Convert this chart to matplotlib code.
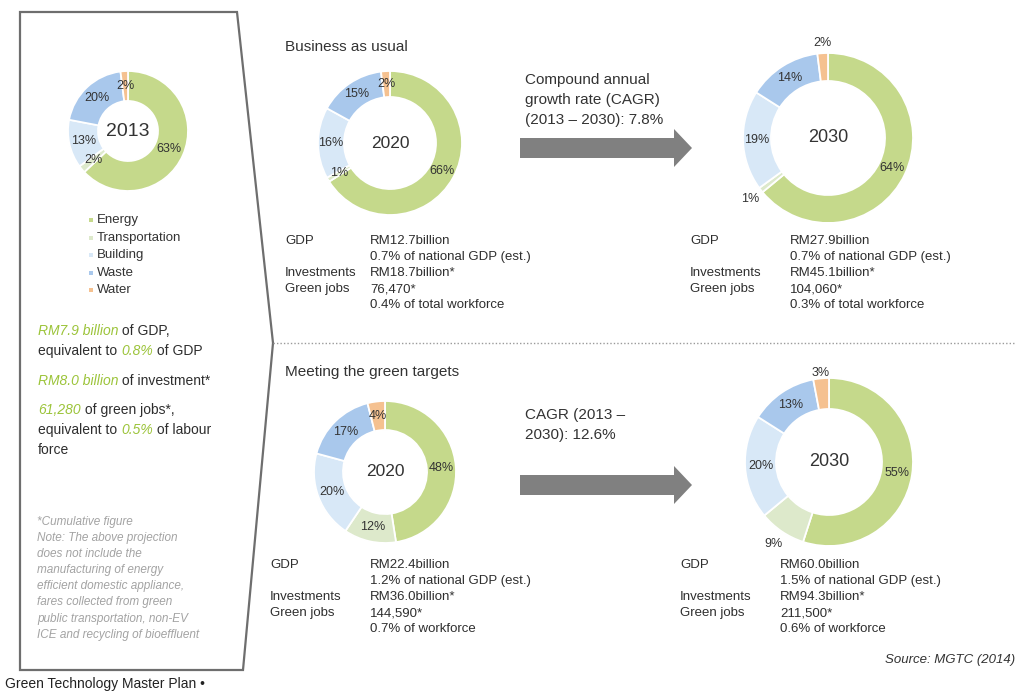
import matplotlib
matplotlib.use("Agg")
import matplotlib.pyplot as plt
from matplotlib.patches import Polygon
import numpy as np

W, H = 1023, 692
plt.rcParams["font.family"] = ["Liberation Sans", "DejaVu Sans"]

# ---------------------------------------------------------------- data
sectors = ["Energy", "Transportation", "Building", "Waste", "Water"]
sector_colors = ["#c5d98b", "#dde9cb", "#d8e8f7", "#a9c8ec", "#f5c190"]

share_2013 = [63, 2, 13, 20, 2]
share_bau_2020 = [66, 1, 16, 15, 2]
share_bau_2030 = [64, 1, 19, 14, 2]
share_green_2020 = [48, 12, 20, 17, 4]
share_green_2030 = [55, 9, 20, 13, 3]

stat_labels = ["GDP", "", "Investments", "Green jobs", ""]
bau_2020_stats = ["RM12.7billion", "0.7% of national GDP (est.)",
                  "RM18.7billion*", "76,470*", "0.4% of total workforce"]
bau_2030_stats = ["RM27.9billion", "0.7% of national GDP (est.)",
                  "RM45.1billion*", "104,060*", "0.3% of total workforce"]
green_2020_stats = ["RM22.4billion", "1.2% of national GDP (est.)",
                    "RM36.0billion*", "144,590*", "0.7% of workforce"]
green_2030_stats = ["RM60.0billion", "1.5% of national GDP (est.)",
                    "RM94.3billion*", "211,500*", "0.6% of workforce"]

cagr_bau = ["Compound annual", "growth rate (CAGR)", "(2013 \u2013 2030): 7.8%"]
cagr_green = ["CAGR (2013 \u2013", "2030): 12.6%"]

summary_2013 = [
    [("RM7.9 billion", "hi"), (" of GDP,", "n")],
    [("equivalent to ", "n"), ("0.8%", "hi"), (" of GDP", "n")],
    [("RM8.0 billion", "hi"), (" of investment*", "n")],
    [("61,280", "hi"), (" of green jobs*,", "n")],
    [("equivalent to ", "n"), ("0.5%", "hi"), (" of labour", "n")],
    [("force", "n")],
]
note_lines = ["*Cumulative figure", "Note: The above projection",
              "does not include the", "manufacturing of energy",
              "efficient domestic appliance,", "fares collected from green",
              "public transportation, non-EV", "ICE and recycling of bioeffluent"]

# ---------------------------------------------------------------- figure
TXT = "#2e2e2e"
GREEN_TXT = "#9cc43a"
fig = plt.figure(figsize=(W / 100, H / 100), dpi=100)
ax = fig.add_axes([0, 0, 1, 1])
ax.set_axis_off()


def Y(y):
    return H - y


def put(x, y, s, size=9.5, color=TXT, **kw):
    return ax.text(x, Y(y), s, fontsize=size, color=color, va="center", **kw)


def donut(values, cx, cy, r_out, r_in, year, year_size, outside=None):
    outside = outside or {}
    wedges, _ = ax.pie(values, colors=sector_colors, startangle=90,
                       counterclock=False, center=(cx, Y(cy)), radius=r_out,
                       frame=True,
                       wedgeprops=dict(width=r_out - r_in, edgecolor="white",
                                       linewidth=1.3))
    r_mid = (r_out + r_in) / 2
    for i, (w, v) in enumerate(zip(wedges, values)):
        ang = np.deg2rad((w.theta1 + w.theta2) / 2)
        r = r_out + outside[i] if i in outside else r_mid
        ax.text(cx + r * np.cos(ang), Y(cy) + r * np.sin(ang), f"{v}%",
                ha="center", va="center", fontsize=9, color="#333333")
    ax.text(cx, Y(cy), year, ha="center", va="center", fontsize=year_size,
            color="#333333")


def stats_block(x_lab, x_val, y0, values, step=16):
    for i, (lab, val) in enumerate(zip(stat_labels, values)):
        y = y0 + i * step
        if lab:
            put(x_lab, y, lab)
        put(x_val, y, val)


def arrow(x0, x1, yc):
    ax.arrow(x0, Y(yc), x1 - x0, 0, width=20, head_width=38,
             head_length=18, length_includes_head=True,
             color="#808080", linewidth=0)


# left panel outline
panel = Polygon([(20, Y(12)), (237, Y(12)), (273, Y(343)), (243, Y(670)),
                 (20, Y(670))], closed=True, fill=False,
                edgecolor="#6e6e6e", linewidth=1.6)
ax.add_patch(panel)

# 2013 donut and legend
donut(share_2013, 128, 131, 60, 30, "2013", 14)
for i, (name, col) in enumerate(zip(sectors, sector_colors)):
    yy = 220 + i * 17.6
    ax.plot([91], [Y(yy)], marker="s", markersize=2.5, color=col,
            markeredgewidth=0)
    put(97, yy, name, size=9.5, color="#333333")

# highlighted summary lines
fig.canvas.draw()
renderer = fig.canvas.get_renderer()
summary_y = [331, 351, 381, 410, 430, 450]
for line, yy in zip(summary_2013, summary_y):
    x = 38
    for s, kind in line:
        if kind == "hi":
            t = put(x, yy, s, size=10, color=GREEN_TXT, style="italic")
        else:
            t = put(x, yy, s, size=10, color=TXT)
        bb = t.get_window_extent(renderer)
        x += bb.width

for i, s in enumerate(note_lines):
    put(37, 522 + i * 16.1, s, size=8.5, color="#a3a3a3", style="italic")

put(5, 684, "Green Technology Master Plan \u2022", size=10, color="#222222")

# business as usual
put(285, 47, "Business as usual", size=11, color="#333333")
donut(share_bau_2020, 390, 143, 72, 46, "2020", 12.5)
for i, s in enumerate(cagr_bau):
    put(525, 80 + i * 20, s, size=11, color="#333333")
arrow(520, 692, 148)
donut(share_bau_2030, 828, 138, 85, 57, "2030", 13,
      outside={1: 14, 4: 10})
stats_block(285, 370, 241, bau_2020_stats)
stats_block(690, 790, 241, bau_2030_stats)

# separator
ax.plot([273, 1015], [Y(343), Y(343)], linestyle=(0, (1, 1.5)),
        color="#9a9a9a", linewidth=1)

# meeting the green targets
put(285, 372, "Meeting the green targets", size=11, color="#333333")
donut(share_green_2020, 385, 472, 71, 42, "2020", 12.5)
for i, s in enumerate(cagr_green):
    put(525, 415 + i * 20, s, size=11, color="#333333")
arrow(520, 692, 485)
donut(share_green_2030, 829, 462, 84, 53, "2030", 13,
      outside={1: 15, 4: 5})
stats_block(270, 370, 565, green_2020_stats)
stats_block(680, 780, 565, green_2030_stats)

put(1015, 660, "Source: MGTC (2014)", size=9.5, color="#333333",
    style="italic", ha="right")

ax.set_xlim(0, W)
ax.set_ylim(0, H)
ax.set_aspect("auto")
fig.savefig("out.png", dpi=100, facecolor="white")
